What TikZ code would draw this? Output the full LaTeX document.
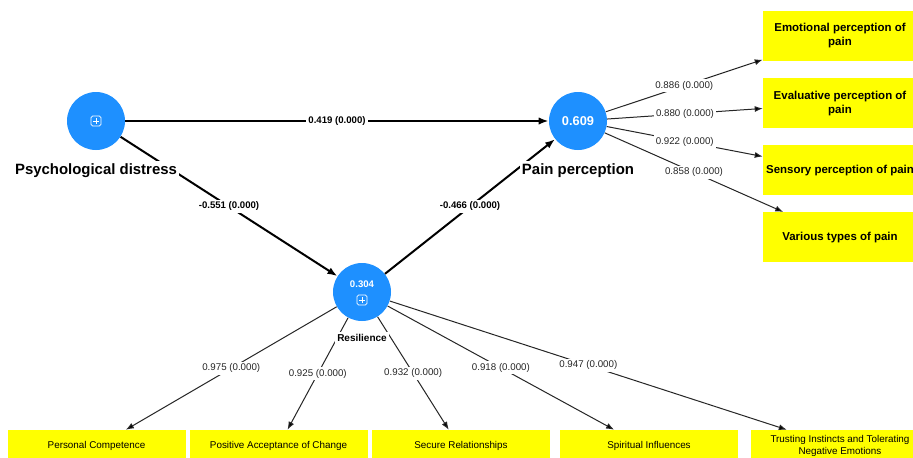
\documentclass[tikz,border=0pt]{standalone}
\usepackage{fontspec}
\setmainfont{Liberation Sans}
\usetikzlibrary{arrows.meta,positioning}
\definecolor{plsblue}{RGB}{30,144,255}
\definecolor{plsyellow}{RGB}{255,255,0}

\begin{document}
\begin{tikzpicture}[x=0.75pt,y=-0.75pt,
    latent/.style={circle,fill=plsblue,minimum size=43.5pt,inner sep=0pt,text=white,
                   font=\fontsize{9.6}{11}\selectfont\bfseries},
    rsquare/.style={text=white,inner sep=0pt,font=\fontsize{7.2}{9}\selectfont\bfseries},
    expander/.style={draw=white,line width=0.6pt,rounded corners=1.2pt,minimum size=7.5pt,inner sep=0pt,
                   path picture={\draw[white,line width=0.6pt]
                     ([xshift=-2.3pt]path picture bounding box.center) -- ([xshift=2.3pt]path picture bounding box.center)
                     ([yshift=-2.3pt]path picture bounding box.center) -- ([yshift=2.3pt]path picture bounding box.center);}},
    indicator/.style={fill=plsyellow,minimum width=115.5pt,minimum height=37.5pt,align=center,inner sep=1pt,
                   font=\fontsize{8.6}{10.5}\selectfont\bfseries},
    item/.style={fill=plsyellow,minimum width=133.5pt,minimum height=24pt,align=center,inner sep=1pt,
                   font=\fontsize{7.4}{9.5}\selectfont},
    conlabel/.style={fill=white,inner sep=1.5pt,font=\fontsize{11.2}{13}\selectfont\bfseries},
    coef/.style={fill=white,inner sep=1.5pt,font=\fontsize{7.2}{9}\selectfont\bfseries},
    loading/.style={fill=white,inner sep=1.5pt,text=black!85,font=\fontsize{7.3}{9}\selectfont},
    structural/.style={-{Latex[length=7.5pt,width=5.5pt]},line width=1.5pt},
    outer/.style={-{Latex[length=6pt,width=4.5pt]},line width=0.75pt,draw=black!85}]
    \path[use as bounding box,fill=white] (0,0) rectangle (913,457);

    % constructs
    \node[latent] (pd) at (96,121) {};
    \node[expander] (pdicon) at (pd.center) {};
    \node[latent] (pp) at (578,121) {0.609};
    \node[latent] (res) at (362,292) {};
    \node[rsquare] (resr2) at ([yshift=6pt]res.center) {0.304};
    \node[expander] (resicon) at ([yshift=-6pt]res.center) {};

    % indicators of pain perception
    \node[indicator] (emo) at (840,36) {Emotional perception of\\pain};
    \node[indicator] (eval) [below=12.4pt of emo] {Evaluative perception of\\pain};
    \node[indicator] (sens) [below=12.4pt of eval] {Sensory perception of pain};
    \node[indicator] (var) [below=12.4pt of sens] {Various types of pain};

    % indicators of resilience
    \node[item] (pc) at (96.5,446) {Personal Competence};
    \node[item] (pac) at (278.5,446) {Positive Acceptance of Change};
    \node[item] (sr) at (461,446) {Secure Relationships};
    \node[item] (si) at (649,446) {Spiritual Influences};
    \node[item] (ti) at (840,446) {Trusting Instincts and Tolerating\\Negative Emotions};

    \path[structural]
    (pd) edge node[coef] {0.419 (0.000)} (pp)
    (pd) edge node[coef] {-0.551 (0.000)} (res)
    (res) edge node[coef] {-0.466 (0.000)} (pp)
    ;

    \path[outer]
    (pp) edge node[loading] {0.886 (0.000)} (emo.197)
    (pp) edge node[loading] {0.880 (0.000)} (eval.184)
    (pp) edge node[loading] {0.922 (0.000)} (sens.170)
    (pp) edge node[loading] {0.858 (0.000)} (var.156)
    (res) edge node[loading] {0.975 (0.000)} (pc.29)
    (res) edge node[loading] {0.925 (0.000)} (pac.61)
    (res) edge node[loading] {0.932 (0.000)} (sr.127)
    (res) edge node[loading] {0.918 (0.000)} (si.155)
    (res) edge node[loading] {0.947 (0.000)} (ti.163)
    ;

    % construct names
    \node[conlabel] (pdname) [below=8pt of pd] {Psychological distress};
    \node[conlabel] (ppname) [below=8pt of pp] {Pain perception};
    \node[conlabel,font=\fontsize{7.5}{9}\selectfont\bfseries] (resname) [below=8.1pt of res] {Resilience};
\end{tikzpicture}
\end{document}
